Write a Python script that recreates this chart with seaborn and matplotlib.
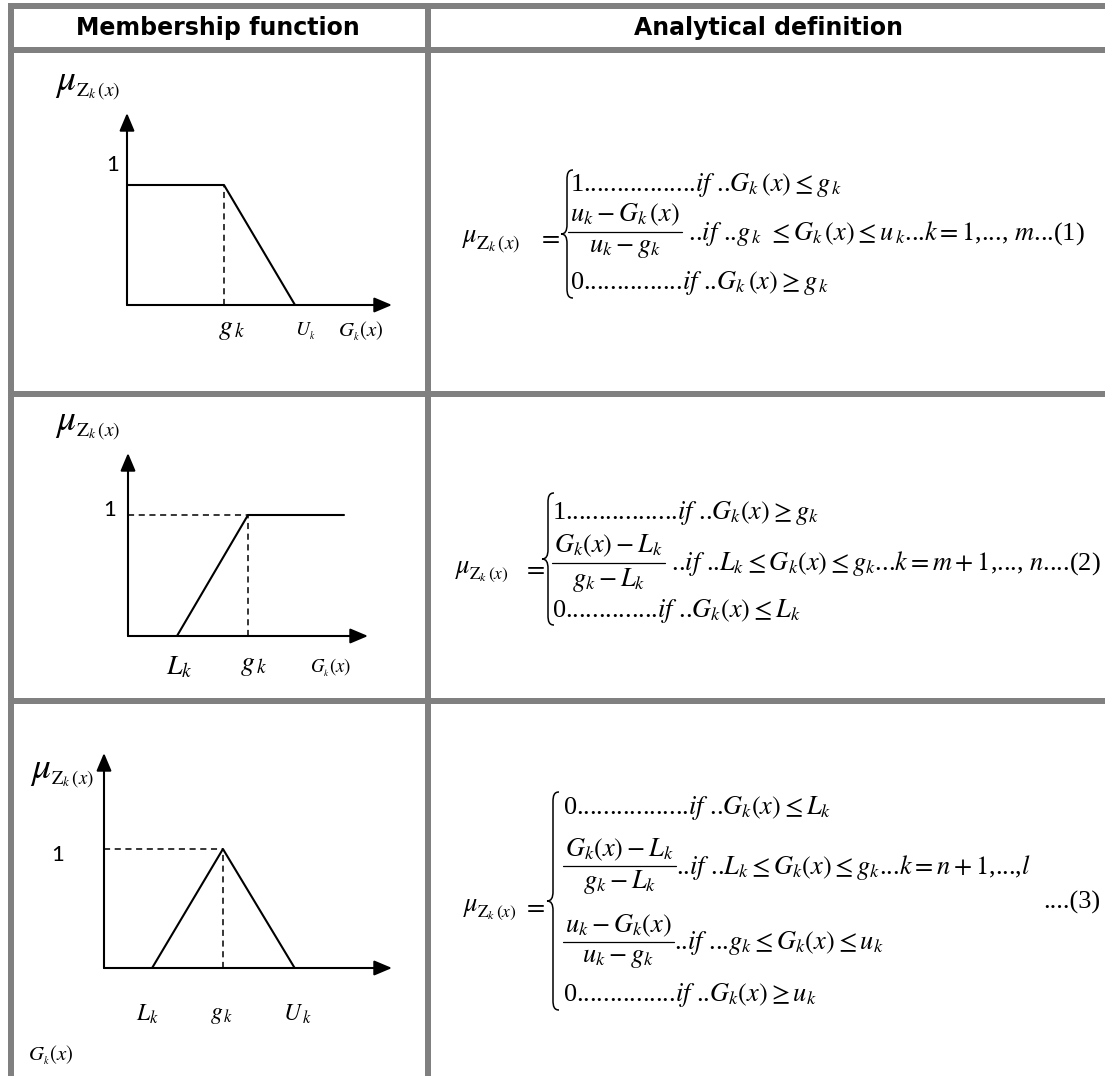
import numpy as np
import seaborn as sns
import matplotlib.pyplot as plt
from matplotlib.patches import Rectangle, PathPatch
from matplotlib.path import Path

W, H = 1105, 1076

sns.set_theme(style="white")
plt.rcParams['font.family'] = ['DejaVu Sans']
plt.rcParams['mathtext.fontset'] = 'stix'
plt.rcParams['text.color'] = 'black'

# ---- content ----
headers = ["Membership function", "Analytical definition"]

# membership functions (G_k(x) in arbitrary units, axis runs 0..10)
dec_x = [0.0, 3.66, 6.34]      # 1 until g_k, then down to U_k
dec_mu = [1, 1, 0]
inc_x = [2.04, 5.0, 9.0]       # 0 until L_k, up to g_k, then 1
inc_mu = [0, 1, 1]
tri_x = [1.67, 4.13, 6.62]     # L_k, g_k, U_k
tri_mu = [0, 1, 0]

mu_sub = r"$\mathrm{Z}_k\,(x)$"
gx_label = r"$G_{_k}(x)$"

eq1_top = r"1.................$\mathit{if}$ ..$G_k\,(x) \leq g_{\,k}$"
eq1_frac = (r"$u_k - G_k\,(x)$", r"$u_k - g_k$",
            r" ..$\mathit{if}$ ..$g_{\,k}\ \leq G_k\,(x) \leq u_{\,k}$...$k = 1$,..., $m$...(1)")
eq1_bot = r"0...............$\mathit{if}$ ..$G_k\,(x) \geq g_{\,k}$"

eq2_top = r"1.................$\mathit{if}$ ..$G_k(x) \geq g_k$"
eq2_frac = (r"$G_k(x) - L_k$", r"$g_k - L_k$",
            r" ..$\mathit{if}$ ..$L_k \leq G_k(x) \leq g_k$...$k = m + 1$,..., $n$....(2)")
eq2_bot = r"0..............$\mathit{if}$ ..$G_k(x) \leq L_k$"

eq3_top = r"0.................$\mathit{if}$ ..$G_k(x) \leq L_k$"
eq3_frac1 = (r"$G_k(x) - L_k$", r"$g_k - L_k$",
             r"..$\mathit{if}$ ..$L_k \leq G_k(x) \leq g_k$...$k = n + 1$,...,$l$")
eq3_frac2 = (r"$u_k - G_k(x)$", r"$u_k - g_k$",
             r"..$\mathit{if}$ ...$g_k \leq G_k(x) \leq u_k$")
eq3_bot = r"0...............$\mathit{if}$ ..$G_k(x) \geq u_k$"
eq3_tag = "....(3)"

# ---- figure ----
fig = plt.figure(figsize=(W / 100, H / 100), dpi=100)
bg = fig.add_axes([0, 0, 1, 1])
bg.set_xlim(0, W)
bg.set_ylim(H, 0)
bg.axis('off')

grey = '#808080'
# table frame (pixel extents)
for (x0, y0, w, h) in [(8, 3, W - 8, 5.5), (8, 3, 5.5, H), (425, 3, 5.5, H),
                       (8, 47, W - 8, 5.5), (8, 391, W - 8, 5.5), (8, 698, W - 8, 5.5)]:
    bg.add_patch(Rectangle((x0, y0), w, h, color=grey, lw=0))

bg.text(218, 28, headers[0], ha='center', va='center', fontsize=17, fontweight='bold')
bg.text(768, 28, headers[1], ha='center', va='center', fontsize=17, fontweight='bold')


def diagram(origin, tip, unit_y, xs, ys, dash_x=None, dash_h=False):
    ox, oy = origin
    tx, ty = tip
    ax = fig.add_axes([ox / W, 1 - oy / H, (tx - ox) / W, (oy - ty) / H])
    ymax = (oy - ty) / unit_y
    ax.set_xlim(0, 10)
    ax.set_ylim(0, ymax)
    ax.axis('off')
    sns.lineplot(x=xs, y=ys, ax=ax, color='black', linewidth=1.5, sort=False,
                 estimator=None, clip_on=False)
    arrow = dict(arrowstyle='-|>,head_length=0.9,head_width=0.38', color='black',
                 lw=1.5, shrinkA=0, shrinkB=0, mutation_scale=12)
    ax.annotate('', xy=(10, 0), xytext=(0, 0), arrowprops=arrow, annotation_clip=False)
    ax.annotate('', xy=(0, ymax), xytext=(0, 0), arrowprops=arrow, annotation_clip=False)
    if dash_x is not None:
        ax.vlines(dash_x, 0, 1, colors='black', linestyles=(0, (4, 3)), lw=1.1)
        if dash_h:
            ax.hlines(1, 0, dash_x, colors='black', linestyles=(0, (4, 3)), lw=1.1)
    return ax


diagram((127, 305), (392, 113), 120, dec_x, dec_mu, dash_x=dec_x[1])
diagram((128, 636), (368, 453), 121, inc_x, inc_mu, dash_x=inc_x[1], dash_h=True)
diagram((104, 968), (392, 753), 119, tri_x, tri_mu, dash_x=tri_x[1], dash_h=True)


def mu_label(x, y, big=27, small=14):
    bg.text(x, y, r"$\mu$", ha='left', va='center', fontsize=big)
    bg.text(x + 21, y + 9, mu_sub, ha='left', va='center', fontsize=small)


num_font = dict(fontsize=16, family=['Lato', 'DejaVu Sans'])
# row 1 labels
mu_label(55, 82)
bg.text(113, 165, "1", ha='center', va='center', **num_font)
bg.text(232, 328, r"$g_{\,k}$", ha='center', va='center', fontsize=20)
bg.text(305, 331, r"$U_{_k}$", ha='center', va='center', fontsize=14)
bg.text(361, 331, gx_label, ha='center', va='center', fontsize=15)
# row 2 labels
mu_label(55, 422)
bg.text(110, 510, "1", ha='center', va='center', **num_font)
bg.text(179, 666, r"$L_k$", ha='center', va='center', fontsize=20)
bg.text(254, 664, r"$g_{\,k}$", ha='center', va='center', fontsize=20)
bg.text(331, 668, gx_label, ha='center', va='center', fontsize=13.5)
# row 3 labels
mu_label(30, 770, small=13.5)
bg.text(58, 855, "1", ha='center', va='center', **num_font)
bg.text(147, 1014, r"$L_k$", ha='center', va='center', fontsize=17)
bg.text(222, 1014, r"$g_{\,k}$", ha='center', va='center', fontsize=17)
bg.text(297, 1014, r"$U_{\,k}$", ha='center', va='center', fontsize=17)
bg.text(28, 1055, gx_label, ha='left', va='center', fontsize=15)


def brace(x, y0, y1, w=6):
    ym = (y0 + y1) / 2
    verts = [(x + w, y0), (x + w * 0.2, y0), (x, y0 + w * 0.6), (x, y0 + w * 1.6),
             (x, ym - w * 1.6),
             (x, ym - w * 0.5), (x - w * 0.3, ym), (x - w, ym),
             (x - w * 0.3, ym), (x, ym + w * 0.5), (x, ym + w * 1.6),
             (x, y1 - w * 1.6),
             (x, y1 - w * 0.6), (x + w * 0.2, y1), (x + w, y1)]
    codes = [Path.MOVETO, Path.CURVE4, Path.CURVE4, Path.CURVE4, Path.LINETO,
             Path.CURVE4, Path.CURVE4, Path.CURVE4, Path.CURVE4, Path.CURVE4, Path.CURVE4,
             Path.LINETO, Path.CURVE4, Path.CURVE4, Path.CURVE4]
    bg.add_patch(PathPatch(Path(verts, codes), fill=False, lw=1.1, color='black'))


serif = ['Liberation Serif', 'DejaVu Serif']
fs = 19
renderer = fig.canvas.get_renderer()


def eq_text(x, y, s, **kw):
    return bg.text(x, y, s, ha='left', va='center', fontsize=fs, family=serif, **kw)


def eq_frac(x, yb, parts, gap=17):
    num, den, rest = parts
    tn = bg.text(x, yb - gap, num, ha='center', va='center', fontsize=fs, family=serif)
    td = bg.text(x, yb + gap, den, ha='center', va='center', fontsize=fs, family=serif)
    wbar = max(tn.get_window_extent(renderer).width,
               td.get_window_extent(renderer).width) + 4
    tn.set_x(x + wbar / 2)
    td.set_x(x + wbar / 2)
    bg.plot([x, x + wbar], [yb, yb], color='black', lw=0.9)
    eq_text(x + wbar, yb + 1, rest)


def eq_lhs(x, y, x_eq, sub=12.5):
    bg.text(x, y, r"$\mu$", ha='left', va='center', fontsize=fs)
    bg.text(x + 14, y + 7, mu_sub, ha='left', va='center', fontsize=sub)
    bg.text(x_eq, y, r"$=$", ha='center', va='center', fontsize=fs)


# equation 1
eq_lhs(462, 237, 549, sub=14)
brace(567, 170, 298)
eq_text(570, 185, eq1_top)
eq_frac(568, 232, eq1_frac)
eq_text(570, 283, eq1_bot)
# equation 2
eq_lhs(455, 568, 534)
brace(548, 493, 625)
eq_text(552, 513, eq2_top)
eq_frac(552, 563, eq2_frac)
eq_text(552, 611, eq2_bot)
# equation 3
eq_lhs(463, 906, 534)
brace(553, 792, 1010)
eq_text(563, 808, eq3_top)
eq_frac(563, 866, eq3_frac1, gap=16)
eq_frac(563, 942, eq3_frac2, gap=16)
eq_text(563, 995, eq3_bot)
bg.text(1100, 902, eq3_tag, ha='right', va='center', fontsize=fs, family=serif)

fig.savefig("out.png", dpi=100)
